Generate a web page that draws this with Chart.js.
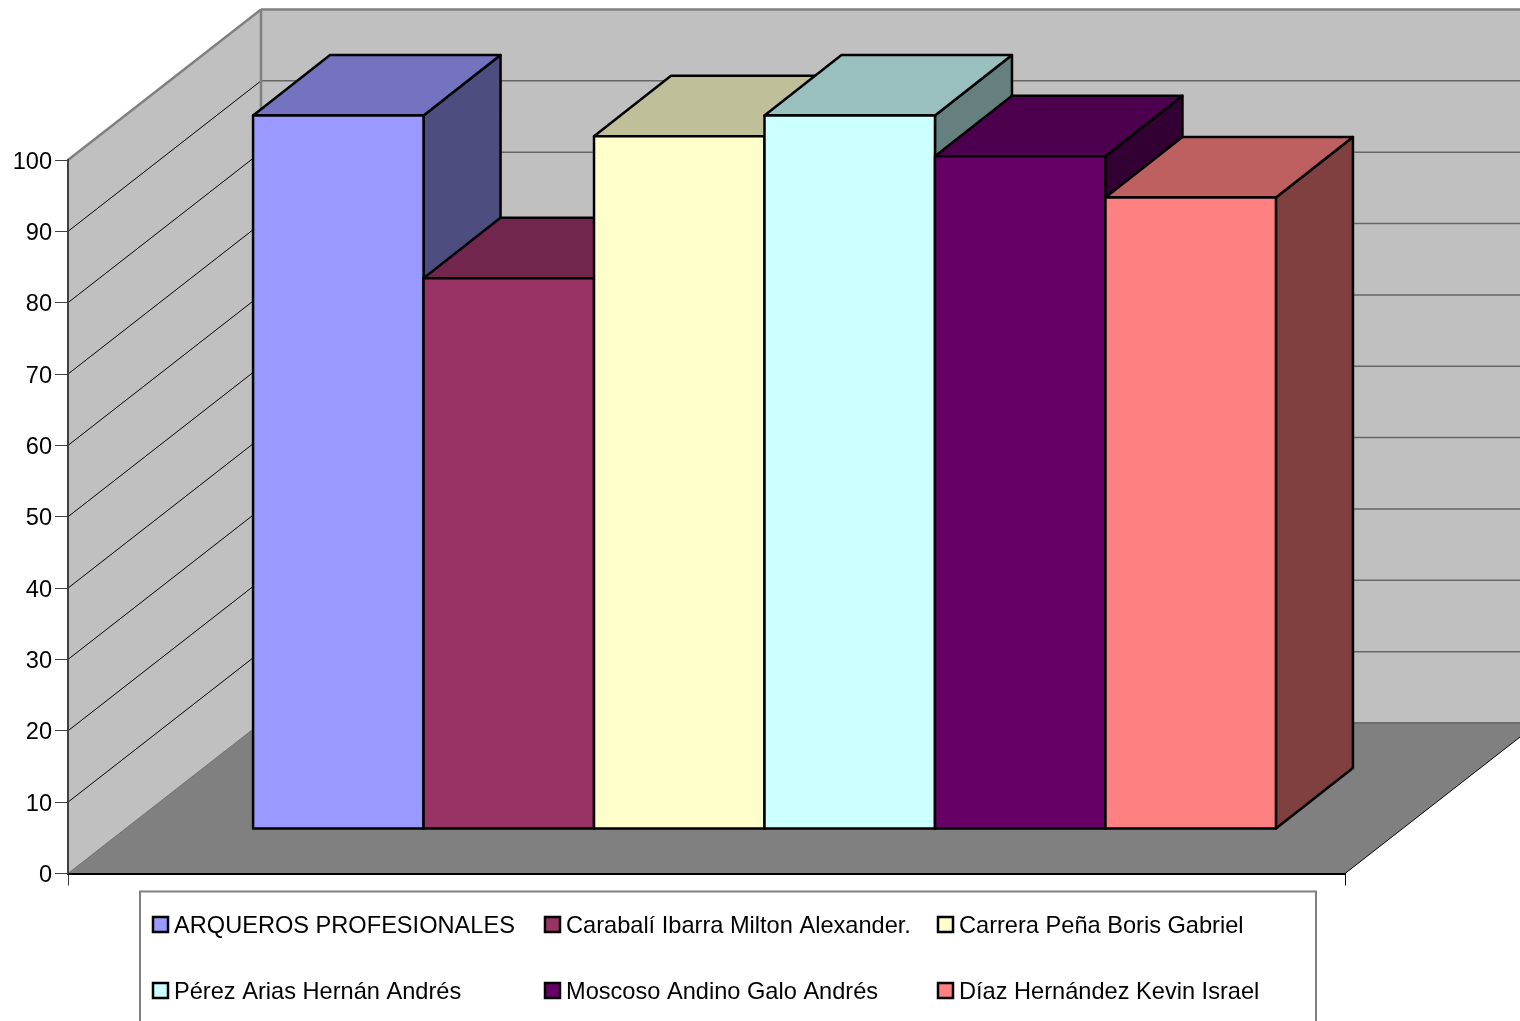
<!DOCTYPE html>
<html>
<head>
<meta charset="utf-8">
<title>Arqueros profesionales</title>
<script src="https://cdn.jsdelivr.net/npm/chart.js@4/dist/chart.umd.min.js"></script>
<style>
    html, body { margin: 0; padding: 0; background: #fff; overflow: hidden; }
    canvas { display: block; }
</style>
</head>
<body>
<canvas id="myChart" width="1520" height="1021"></canvas>
<script>
var categories = [''];
var seriesNames = [
    'ARQUEROS PROFESIONALES',
    'Carabalí Ibarra Milton Alexander.',
    'Carrera Peña Boris Gabriel',
    'Pérez Arias Hernán Andrés',
    'Moscoso Andino Galo Andrés',
    'Díaz Hernández Kevin Israel'
];
var seriesValues = [100, 77.2, 97.1, 100, 94.3, 88.5];
var seriesColors = ['#9999ff', '#993366', '#ffffcc', '#ccffff', '#660066', '#ff8080'];

var FONT = '"Liberation Sans", Arial, sans-serif';
var FONT_SIZE = 23.6;
var WALL_DX = 193, WALL_DY = -150.5; // depth of the floor and side wall
var BAR_DX = 58, BAR_DY = -44.5;     // where the bars stand on the floor
var DEPTH_DX = 77, DEPTH_DY = -60.5; // depth of a bar
var BAR_LINE = 2.5;

function shade(hex, k) {
    var n = parseInt(hex.slice(1), 16);
    var r = Math.round((n >> 16) * k), g = Math.round(((n >> 8) & 255) * k), b = Math.round((n & 255) * k);
    return 'rgb(' + r + ',' + g + ',' + b + ')';
}

function poly(ctx, pts, fill, stroke, width) {
    ctx.beginPath();
    ctx.moveTo(pts[0][0], pts[0][1]);
    for (var i = 1; i < pts.length; i++) ctx.lineTo(pts[i][0], pts[i][1]);
    ctx.closePath();
    if (fill) { ctx.fillStyle = fill; ctx.fill(); }
    if (stroke) { ctx.strokeStyle = stroke; ctx.lineWidth = width; ctx.lineJoin = 'round'; ctx.stroke(); }
}

function segment(ctx, x1, y1, x2, y2, color, width) {
    ctx.beginPath();
    ctx.moveTo(x1, y1);
    ctx.lineTo(x2, y2);
    ctx.strokeStyle = color;
    ctx.lineWidth = width;
    ctx.stroke();
}

// walls, floor and the gridlines that wrap around them
var walls = {
    id: 'walls',
    beforeDraw: function (chart) {
        var ctx = chart.ctx, y = chart.scales.y, a = chart.chartArea;
        var y0 = y.getPixelForValue(0), y100 = y.getPixelForValue(100);
        var l = a.left, r = a.right;
        ctx.save();
        poly(ctx, [[l + WALL_DX, y100 + WALL_DY], [chart.width + 40, y100 + WALL_DY],
                   [chart.width + 40, y0 + WALL_DY], [l + WALL_DX, y0 + WALL_DY]], '#c0c0c0');
        poly(ctx, [[l, y100], [l + WALL_DX, y100 + WALL_DY], [l + WALL_DX, y0 + WALL_DY], [l, y0]], '#c0c0c0');
        poly(ctx, [[l, y0], [r, y0], [r + WALL_DX, y0 + WALL_DY], [l + WALL_DX, y0 + WALL_DY]], '#808080');

        y.ticks.forEach(function (t) {
            if (t.value === 0 || t.value === 100) return;
            var p = y.getPixelForValue(t.value);
            segment(ctx, l, p, l + WALL_DX, p + WALL_DY, '#000', 1);
            segment(ctx, l + WALL_DX, p + WALL_DY, chart.width, p + WALL_DY, '#666', 1.5);
        });

        // outline of the walls
        segment(ctx, l, y100, l + WALL_DX, y100 + WALL_DY, '#808080', 2.5);
        segment(ctx, l + WALL_DX, y100 + WALL_DY, chart.width, y100 + WALL_DY, '#808080', 2.5);
        segment(ctx, l + WALL_DX, y100 + WALL_DY, l + WALL_DX, y0 + WALL_DY, '#808080', 2.5);
        segment(ctx, l + WALL_DX, y0 + WALL_DY, chart.width, y0 + WALL_DY, '#6e6e6e', 2);
        segment(ctx, l, y0, l + WALL_DX, y0 + WALL_DY, '#6e6e6e', 1);
        segment(ctx, r, y0, r + WALL_DX, y0 + WALL_DY, '#000', 1);
        ctx.restore();
    }
};

// each bar gets its top and side face, painted left to right so neighbours cover them
var bars3d = {
    id: 'bars3d',
    beforeDatasetsDraw: function (chart) {
        var ctx = chart.ctx;
        ctx.save();
        ctx.translate(BAR_DX, BAR_DY);
        chart.data.datasets.forEach(function (ds, i) {
            var bar = chart.getDatasetMeta(i).data[0];
            var p = bar.getProps(['x', 'y', 'base', 'width'], true);
            var x1 = p.x - p.width / 2, x2 = p.x + p.width / 2;
            var top = p.y, base = p.base;

            poly(ctx, [[x2, top], [x2 + DEPTH_DX, top + DEPTH_DY], [x2 + DEPTH_DX, base + DEPTH_DY], [x2, base]],
                 shade(ds.backgroundColor, 0.5), '#000', BAR_LINE);
            poly(ctx, [[x1, top], [x1 + DEPTH_DX, top + DEPTH_DY], [x2 + DEPTH_DX, top + DEPTH_DY], [x2, top]],
                 shade(ds.backgroundColor, 0.75), '#000', BAR_LINE);
            bar.draw(ctx);
            ctx.strokeStyle = '#000';
            ctx.lineWidth = BAR_LINE;
            ctx.strokeRect(x1, top, x2 - x1, base - top);
        });
        ctx.restore();
        return false;
    }
};

// boxed legend in fixed columns, two rows
var boxLegend = {
    id: 'boxLegend',
    afterDraw: function (chart) {
        var ctx = chart.ctx;
        var colX = [153, 545, 938], rowY = [917, 983];
        ctx.save();
        ctx.strokeStyle = '#808080';
        ctx.lineWidth = 2;
        ctx.strokeRect(140, 891.5, 1176, 160);
        ctx.font = FONT_SIZE + 'px ' + FONT;
        ctx.textBaseline = 'alphabetic';
        ctx.textAlign = 'left';
        chart.data.datasets.forEach(function (ds, i) {
            var x = colX[i % 3], y = rowY[Math.floor(i / 3)];
            ctx.fillStyle = ds.backgroundColor;
            ctx.fillRect(x, y, 15, 15);
            ctx.strokeStyle = '#000';
            ctx.lineWidth = 2.5;
            ctx.strokeRect(x, y, 15, 15);
            ctx.fillStyle = '#000';
            ctx.fillText(ds.label, x + 21, y + 16);
        });
        ctx.restore();
    }
};

var ctx = document.getElementById('myChart').getContext('2d');
var myChart = new Chart(ctx, {
    type: 'bar',
    data: {
        labels: categories,
        datasets: seriesNames.map(function (name, i) {
            return {
                label: name,
                data: [seriesValues[i]],
                backgroundColor: seriesColors[i],
                borderWidth: 0
            };
        })
    },
    options: {
        responsive: false,
        animation: false,
        categoryPercentage: 0.801,
        barPercentage: 1,
        layout: { padding: { top: 160, right: 175, left: 0, bottom: 0 } },
        plugins: { legend: { display: false }, tooltip: { enabled: false }, title: { display: false } },
        scales: {
            x: {
                grid: {
                    drawOnChartArea: false,
                    tickLength: 12,
                    tickColor: function (c) { return c.index === 0 ? '#404040' : '#000'; }
                },
                border: { color: '#000', width: 2 },
                ticks: { display: false },
                afterFit: function (scale) { scale.height = 147.5; }
            },
            y: {
                min: 0,
                max: 100,
                grid: { drawOnChartArea: false, tickLength: 13, tickColor: '#404040' },
                border: { color: '#404040', width: 2 },
                ticks: {
                    stepSize: 10,
                    padding: 3,
                    labelOffset: 2,
                    color: '#000',
                    font: { family: FONT, size: FONT_SIZE }
                },
                afterFit: function (scale) { scale.width = 68; }
            }
        }
    },
    plugins: [walls, bars3d, boxLegend]
});
</script>
</body>
</html>
